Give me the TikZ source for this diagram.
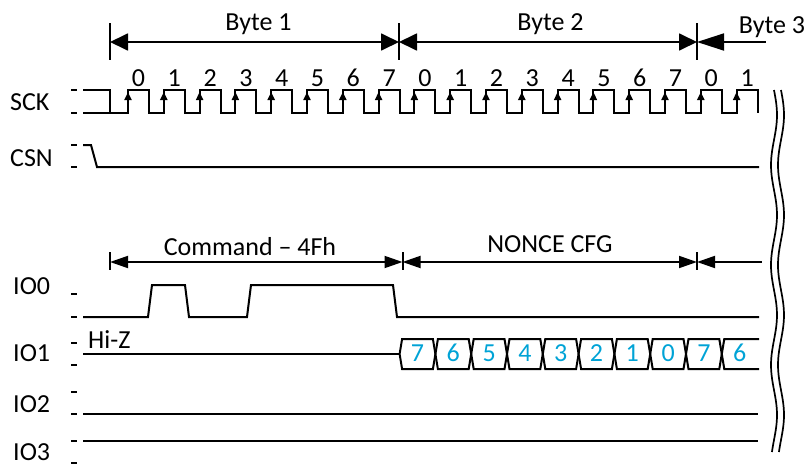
\documentclass[tikz,border=0pt]{standalone}
\usepackage{fontspec}
\setmainfont{Carlito}
\usetikzlibrary{arrows.meta}
\definecolor{bitblue}{RGB}{0,163,214}

\begin{document}
\begin{tikzpicture}[x=1pt,y=-1pt,
	sig/.style={line width=2pt,line join=miter},
	tick/.style={line width=2pt},
	marker/.style={line width=2pt},
	lbl/.style={anchor=base west,inner sep=0pt,font=\fontsize{26}{30}\selectfont},
	txt/.style={anchor=base,inner sep=0pt,font=\fontsize{26}{30}\selectfont},
	bitno/.style={txt,text=bitblue},
	bytedim/.style={line width=1.8pt,{Triangle[length=18pt,width=17pt]}-{Triangle[length=18pt,width=17pt]}},
	fielddim/.style={line width=1.8pt,{Triangle[length=18pt,width=12pt]}-{Triangle[length=18pt,width=12pt]}},
	clkarr/.style={line width=2pt,-{Triangle[length=8pt,width=7pt]}},
	wavy/.style={line width=1.7pt}]
	\useasboundingbox (0,0) rectangle (807,466);

	% signal names
	\node[lbl] (sck) at (10,110.7) {SCK};
	\node[lbl] (csn) at (10,166.7) {CSN};
	\node[lbl] (ioa) at (13,294)   {IO0};
	\node[lbl] (iob) at (13,361.7) {IO1};
	\node[lbl] (ioc) at (13,412.7) {IO2};
	\node[lbl] (iod) at (13,460.5) {IO3};
	\node[lbl] (hiz) at (88,348)   {Hi-Z};

	% level ticks
	\foreach \y in {90,113,145,167,294,317,343,365,392,414,441,463}
		\draw[tick] (71,\y) -- (77,\y);

	% bytes
	\coordinate (byteA) at (110,42);
	\coordinate (byteB) at (399,42);
	\coordinate (byteC) at (697,42);
	\coordinate (byteE) at (766,42);
	\foreach \c in {byteA,byteB,byteC}
		\draw[marker] (\c) ++(0,-19) -- ++(0,37);
	\draw[bytedim] (byteA) -- (byteB);
	\draw[bytedim] (byteB) -- (byteC);
	\draw[line width=1.8pt,{Triangle[length=27pt,width=17pt]}-] (byteC) -- (byteE);
	\node[txt] (byte1) at (258.5,30) {Byte 1};
	\node[txt] (byte2) at (550.5,30) {Byte 2};
	\node[txt] (byte3) at (772,33)   {Byte 3};

	% SCK
	\draw[sig] (83,90) -- (110,90) -- (110,113);
	\draw[sig] (83,113) foreach \k in {0,...,17} {
		-- ({128+35.8*\k},113) -- ({128+35.8*\k},90) -- ({149+35.8*\k},90) -- ({149+35.8*\k},113)};
	\foreach \k in {0,...,17} {
		\pgfmathtruncatemacro\b{mod(\k,8)}
		\draw[clkarr] ({128+35.8*\k},108) -- ({128+35.8*\k},92);
		\node[txt] (bit\k) at ({138.5+35.8*\k},86) {\b};
	}

	% CSN
	\draw[sig] (83,145) -- (91,145) -- (97,167) -- (759,167);

	% fields
	\coordinate (cmdA) at (110,262);
	\coordinate (cmdB) at (402.5,262);
	\coordinate (cmdC) at (697,262);
	\coordinate (cmdE) at (762,262);
	\foreach \c in {cmdA,cmdB,cmdC}
		\draw[marker] (\c) ++(0,-10) -- ++(0,18);
	\draw[fielddim] (cmdA) -- (cmdB);
	\draw[fielddim] (cmdB) -- (cmdC);
	\draw[line width=1.8pt,{Triangle[length=18pt,width=12pt]}-] (cmdC) -- (cmdE);
	\node[txt] (cmd)   at (250,255)   {Command – 4Fh};
	\node[txt] (nonce) at (550,252.3) {NONCE CFG};

	% IO0
	\draw[sig] (83,317) -- (148,317) -- (152,285) -- (185,285) -- (189,317) -- (247,317)
		-- (251,285) -- (393,285) -- (397,317) -- (759,317);

	% IO1
	\draw[sig] (83,354) -- (399.6,354);
	\foreach \d [count=\j from 0] in {7,6,5,4,3,2,1,0,7,6} {
		\pgfmathsetmacro\t{399.6+35.8*\j}
		\ifnum\j<9
			\draw[sig] (\t,354) -- (\t+2.5,339) -- (\t+33.3,339) -- (\t+35.8,354)
				-- (\t+33.3,369) -- (\t+2.5,369) -- cycle;
		\else
			\draw[sig] (759,339) -- (\t+2.5,339) -- (\t,354) -- (\t+2.5,369) -- (759,369);
		\fi
		\node[bitno] (data\j) at (\t+17.9,361.7) {\d};
	}

	% IO2, IO3
	\draw[sig] (83,414) -- (758,414);
	\draw[sig] (83,441) -- (758,441);

	% break
	\draw[wavy] plot[domain=90:452,samples=90,smooth] ({774+3*sin((\x-90)*3.6)},\x);
	\draw[wavy] plot[domain=90:452,samples=90,smooth] ({781+3*sin((\x-90)*3.6)},\x);
\end{tikzpicture}
\end{document}
